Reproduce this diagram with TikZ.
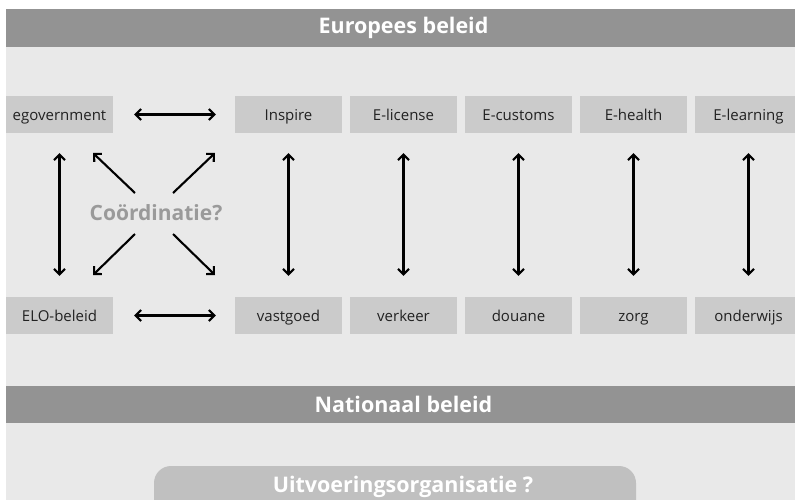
\documentclass[tikz,border=0pt]{standalone}
\usepackage{fontspec}
\setmainfont{Open Sans}
\usetikzlibrary{arrows.meta}
\definecolor{barc}{HTML}{939393}
\definecolor{bgc}{HTML}{E9E9E9}
\definecolor{boxc}{HTML}{CBCBCB}
\definecolor{pillc}{HTML}{C0C0C0}
\definecolor{coordc}{HTML}{9A9A9A}
\definecolor{txtc}{HTML}{222222}
\tikzset{
  tip/.tip={Straight Barb[length=5.5pt,width=11pt]},
  band/.style={fill=barc, draw=none},
  bandtext/.style={text=white, font=\fontsize{21.5}{26}\selectfont\bfseries},
  topicbox/.style={fill=boxc, draw=none, minimum width=107pt, minimum height=37pt,
    inner sep=0pt, text height=13pt, text depth=2pt, text=txtc,
    font=\fontsize{15}{18}\selectfont},
  link/.style={line width=2.1pt, tip-tip},
  vlink/.style={link, shorten <=20pt, shorten >=21pt},
  hlink/.style={link, shorten <=21pt, shorten >=19pt},
}
\begin{document}
\begin{tikzpicture}[x=1pt,y=-1pt]
  \useasboundingbox (0,0) rectangle (795,499);
  \clip (0,0) rectangle (795,499);
  % page background and the two policy bands
  \fill[bgc] (6,47) rectangle (800,505);
  \fill[band] (6,9) rectangle (800,47);
  \node[bandtext] (eu) at (403.5,28) {Europees beleid};
  \fill[band] (6,386) rectangle (800,423);
  \node[bandtext] (nl) at (403.5,404.5) {Nationaal beleid};
  % implementing organisation (pill, runs off the bottom edge)
  \fill[pillc, rounded corners=17pt] (154,466) rectangle (636,520);
  \node[bandtext] (uo) at (403,487) {Uitvoeringsorganisatie ?};
  % top row: European initiatives
  \node[topicbox] (egov) at (59.5,114.5) {egovernment};
  \node[topicbox] (insp) at (288.5,114.5) {Inspire};
  \node[topicbox] (elic) at (403.5,114.5) {E-license};
  \node[topicbox] (ecus) at (518.5,114.5) {E-customs};
  \node[topicbox] (ehea) at (633.5,114.5) {E-health};
  \node[topicbox] (elea) at (748.5,114.5) {E-learning};
  % bottom row: national domains
  \node[topicbox] (elo) at (59.5,315.5) {ELO-beleid};
  \node[topicbox] (vast) at (288.5,315.5) {vastgoed};
  \node[topicbox] (verk) at (403.5,315.5) {verkeer};
  \node[topicbox] (dou) at (518.5,315.5) {douane};
  \node[topicbox] (zorg) at (633.5,315.5) {zorg};
  \node[topicbox] (ond) at (748.5,315.5) {onderwijs};
  % vertical links
  \draw[vlink] (egov) -- (elo);
  \draw[vlink] (insp) -- (vast);
  \draw[vlink] (elic) -- (verk);
  \draw[vlink] (ecus) -- (dou);
  \draw[vlink] (ehea) -- (zorg);
  \draw[vlink] (elea) -- (ond);
  % horizontal links
  \draw[hlink] (egov) -- (insp);
  \draw[hlink] (elo) -- (vast);
  % coordination cross
  \node[text=coordc, font=\fontsize{21}{25}\selectfont\bfseries] (coord) at (156,213) {Coördinatie?};
  \coordinate (tlA) at (135,193); \coordinate (tlB) at (93,153);
  \coordinate (trA) at (173,193); \coordinate (trB) at (215,153);
  \coordinate (blA) at (135,234); \coordinate (blB) at (93,275);
  \coordinate (brA) at (173,234); \coordinate (brB) at (215,275);
  \draw[link, tip-] (tlB) -- (tlA);
  \draw[link, -tip] (trA) -- (trB);
  \draw[link, tip-] (blB) -- (blA);
  \draw[link, -tip] (brA) -- (brB);
\end{tikzpicture}
\end{document}
